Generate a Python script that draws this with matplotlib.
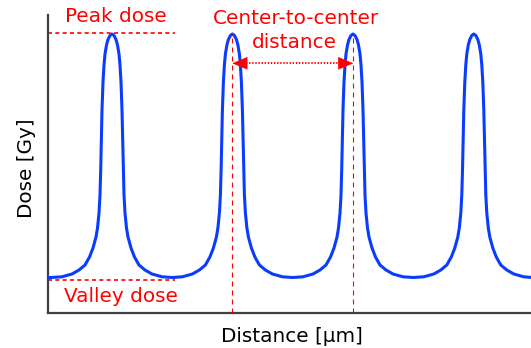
import matplotlib
matplotlib.use("Agg")
import matplotlib.pyplot as plt

plt.rcParams['font.family'] = ['DejaVu Sans']

# ---- data (arbitrary units) ----
peak_dose = 279.7
valley_dose = 33.0
peak_centers = [64.0, 184.3, 305.3, 425.8]

distance = [
    0.0,
    14.0, 24.0, 31.0, 37.0, 41.5, 45.0, 48.0, 49.5, 51.0, 52.0, 52.7, 53.3, 54.0, 55.0, 56.0, 57.0, 58.5, 60.0, 62.0,
    64.0,
    66.0, 68.0, 69.5, 71.0, 72.0, 73.0, 74.0, 74.7, 75.3, 76.0, 77.0, 78.5, 80.0, 83.0, 86.5, 91.0, 97.0, 104.0, 114.0,
    124.2,
    134.4, 144.4, 151.4, 157.4, 161.9, 165.4, 168.4, 169.9, 171.4, 172.4, 173.1, 173.7, 174.4, 175.4, 176.4, 177.4, 178.9, 180.4, 182.4,
    184.4,
    186.4, 188.4, 189.9, 191.4, 192.4, 193.4, 194.4, 195.1, 195.7, 196.4, 197.4, 198.9, 200.4, 203.4, 206.9, 211.4, 217.4, 224.4, 234.4,
    244.7,
    255.0, 265.0, 272.0, 278.0, 282.5, 286.0, 289.0, 290.5, 292.0, 293.0, 293.7, 294.3, 295.0, 296.0, 297.0, 298.0, 299.5, 301.0, 303.0,
    305.0,
    307.0, 309.0, 310.5, 312.0, 313.0, 314.0, 315.0, 315.7, 316.3, 317.0, 318.0, 319.5, 321.0, 324.0, 327.5, 332.0, 338.0, 345.0, 355.0,
    365.4,
    375.8, 385.8, 392.8, 398.8, 403.3, 406.8, 409.8, 411.3, 412.8, 413.8, 414.5, 415.1, 415.8, 416.8, 417.8, 418.8, 420.3, 421.8, 423.8,
    425.8,
    427.8, 429.8, 431.3, 432.8, 433.8, 434.8, 435.8, 436.5, 437.1, 437.8, 438.8, 440.3, 441.8, 444.8, 448.3, 452.8, 458.8, 465.8, 475.8,
    483.0,
]

dose = [
    35.3,
    36.2, 39, 43, 48, 56, 65, 76, 85, 100, 118, 143, 173, 203, 231, 248, 259, 268, 273.5, 277.5,
    279,
    277.5, 273.5, 268, 259, 248, 231, 203, 173, 143, 118, 100, 85, 76, 65, 56, 48, 43, 39, 36.2,
    35.5,
    36.2, 39, 43, 48, 56, 65, 76, 85, 100, 118, 143, 173, 203, 231, 248, 259, 268, 273.5, 277.5,
    279,
    277.5, 273.5, 268, 259, 248, 231, 203, 173, 143, 118, 100, 85, 76, 65, 56, 48, 43, 39, 36.2,
    35.5,
    36.2, 39, 43, 48, 56, 65, 76, 85, 100, 118, 143, 173, 203, 231, 248, 259, 268, 273.5, 277.5,
    279,
    277.5, 273.5, 268, 259, 248, 231, 203, 173, 143, 118, 100, 85, 76, 65, 56, 48, 43, 39, 36.2,
    35.5,
    36.2, 39, 43, 48, 56, 65, 76, 85, 100, 118, 143, 173, 203, 231, 248, 259, 268, 273.5, 277.5,
    279,
    277.5, 273.5, 268, 259, 248, 231, 203, 173, 143, 118, 100, 85, 76, 65, 56, 48, 43, 39, 36.2,
    35.6,
]

W, H = 531, 348
fig = plt.figure(figsize=(W / 100, H / 100), dpi=100)
ax = fig.add_axes([48 / W, (H - 313) / H, (W - 48) / W, (313 - 15) / H])
ax.set_xlim(0, 483)
ax.set_ylim(0, 298)

red = '#FF0000'
blue = '#0A3CFF'

ax.plot(distance, dose, color=blue, lw=2.2, solid_joinstyle='round', zorder=3)

# reference lines
ax.plot([0, 127], [peak_dose, peak_dose], color=red, lw=1.2, dashes=(2.4, 2.0), zorder=2)
ax.plot([0, 127], [valley_dose, valley_dose], color=red, lw=1.2, dashes=(2.4, 2.0), zorder=2)
for xc in peak_centers[1:3]:
    ax.plot([xc, xc], [0, 280], color=red, lw=0.8, dashes=(4.5, 3.6), zorder=4)

# center-to-center arrow
ya = 249.7
hl = 14
x_a, x_b = peak_centers[1], peak_centers[2]
ax.plot([x_a + hl, x_b - hl], [ya, ya], color=red, lw=1.4, dashes=(0.7, 0.9), zorder=4)
for tip, base in ((x_a, x_a + hl), (x_b, x_b - hl)):
    ax.annotate('', xy=(tip, ya), xytext=(base, ya),
                arrowprops=dict(arrowstyle='-|>,head_length=1.0,head_width=0.42',
                                color=red, lw=0.5, shrinkA=0, shrinkB=0), zorder=5)

fs = 14.4
ax.text(68, 296, 'Peak dose', color=red, fontsize=fs, ha='center', va='center', clip_on=False)
ax.text(248, 295, 'Center-to-center', color=red, fontsize=fs, ha='center', va='center', clip_on=False)
ax.text(246, 271, 'distance', color=red, fontsize=fs, ha='center', va='center', clip_on=False)
ax.text(73, 16, 'Valley dose', color=red, fontsize=fs, ha='center', va='center', clip_on=False)

ax.set_xlabel('Distance [µm]', fontsize=fs, color='black', va='center')
ax.xaxis.set_label_coords((292 - 48) / 483, (313 - 337) / 298)
ax.set_ylabel('Dose [Gy]', fontsize=fs, color='black', va='center')
ax.yaxis.set_label_coords((26 - 48) / 483, (313 - 168) / 298)

ax.set_xticks([])
ax.set_yticks([])
for s in ('top', 'right'):
    ax.spines[s].set_visible(False)
for s in ('left', 'bottom'):
    ax.spines[s].set_color('#404040')
    ax.spines[s].set_linewidth(1.6)

fig.savefig('out.png', dpi=100)
